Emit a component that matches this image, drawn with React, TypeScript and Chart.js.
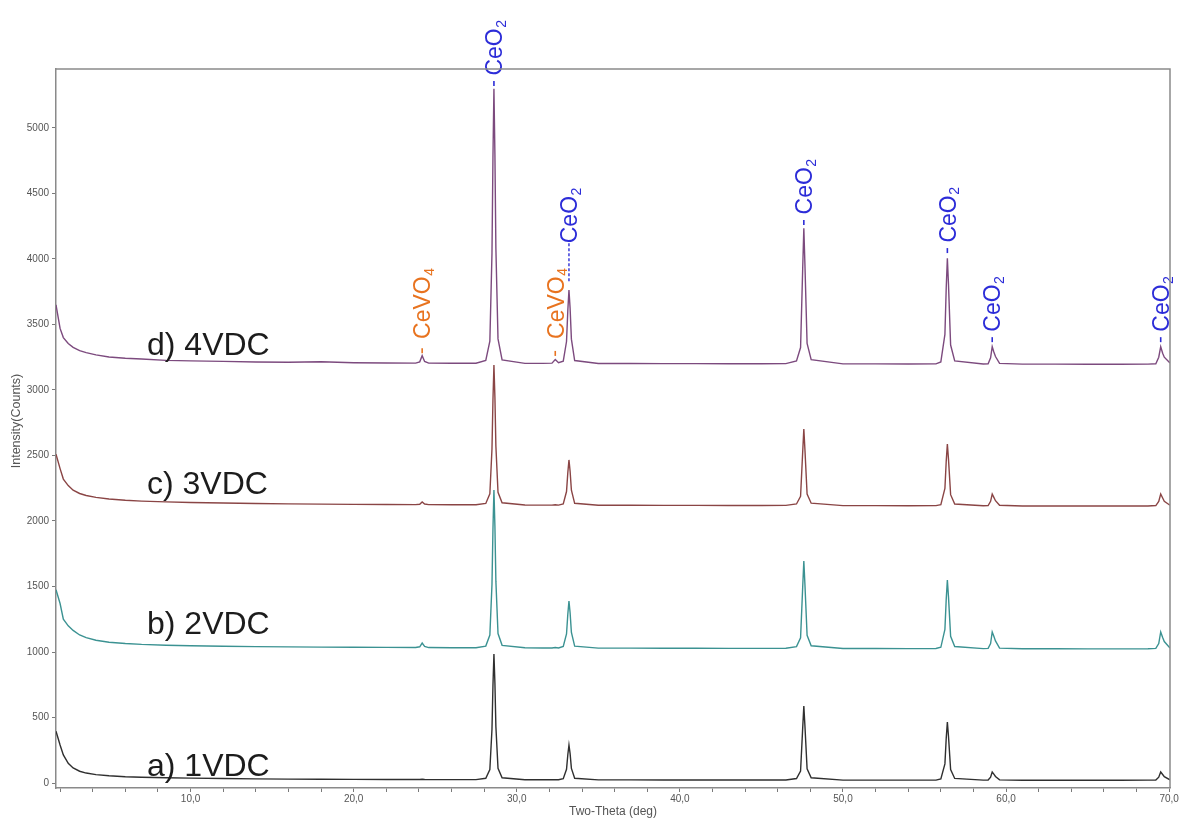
import { useEffect, useRef } from "react";
import { Chart, registerables } from "chart.js";

Chart.register(...registerables);

// Two-theta sampling positions (deg), shared by all four patterns
const twoTheta = [
  1.75, 2.0, 2.2, 2.5, 2.8, 3.2, 3.6, 4.2, 5.0, 6.0, 7.0, 8.5, 10, 12, 14, 16, 18, 20, 22,
  23.8, 24.05, 24.2, 24.35, 24.6,
  26, 27.5,
  28.1, 28.35, 28.48, 28.54, 28.6, 28.66, 28.72, 28.85, 29.1,
  30.5, 31.6,
  32.16, 32.36, 32.56,
  32.85, 33.05, 33.13, 33.2, 33.27, 33.35, 33.55,
  35, 37, 39, 41, 43, 45, 46.5,
  47.15, 47.4, 47.53, 47.6, 47.67, 47.8, 48.05,
  50, 52, 54, 55.7,
  56.0, 56.25, 56.33, 56.4, 56.47, 56.6, 56.85,
  58.6,
  58.9, 59.05, 59.15, 59.25, 59.35, 59.6,
  61, 63, 65, 67, 68.7,
  69.18, 69.36, 69.48, 69.6, 69.7, 70.05,
];

// Intensity (counts) of each sample, stacked with a vertical offset
const counts1VDC = [
  395, 290, 215, 150, 115, 90, 76, 64, 55, 48, 44, 40, 37, 34, 32, 30, 29, 28, 27,
  27, 27, 29, 27, 26,
  26, 26,
  36, 103, 410, 745, 985, 764, 429, 112, 40,
  25, 25,
  25, 26, 25,
  33, 105, 216, 290, 224, 112, 36,
  24, 24, 23, 23, 23, 23, 23,
  34, 91, 419, 588, 430, 108, 40,
  22, 22, 22, 22,
  31, 146, 342, 466, 355, 102, 35,
  22,
  23, 45, 84, 68, 50, 24,
  21, 21, 21, 21, 22,
  23, 45, 84, 65, 48, 24,
];

const counts2VDC = [
  1475, 1370, 1250, 1200, 1165, 1130, 1110, 1090, 1075, 1065, 1058, 1052, 1048, 1044, 1041, 1039, 1037, 1036, 1035,
  1034, 1040, 1068, 1042, 1034,
  1033, 1033,
  1045, 1129, 1515, 1936, 2237, 1960, 1539, 1141, 1051,
  1032, 1031,
  1031, 1034, 1031,
  1042, 1138, 1289, 1389, 1300, 1149, 1045,
  1030, 1030, 1029, 1029, 1028, 1028, 1029,
  1041, 1108, 1495, 1695, 1508, 1128, 1048,
  1027, 1027, 1026, 1027,
  1036, 1173, 1403, 1550, 1419, 1120, 1042,
  1026,
  1028, 1065, 1153, 1120, 1085, 1030,
  1025, 1025, 1024, 1024, 1025,
  1028, 1065, 1153, 1110, 1080, 1030,
];

const counts3VDC = [
  2510, 2400, 2320, 2270, 2235, 2210, 2195, 2180, 2168, 2158, 2152, 2146, 2141, 2137, 2134, 2131, 2129, 2127, 2126,
  2125, 2128, 2145, 2130, 2125,
  2124, 2124,
  2134, 2208, 2550, 2923, 3190, 2945, 2571, 2219, 2139,
  2122, 2121,
  2121, 2124, 2121,
  2131, 2225, 2369, 2466, 2380, 2235, 2135,
  2120, 2120, 2119, 2119, 2118, 2118, 2119,
  2130, 2188, 2527, 2702, 2538, 2206, 2136,
  2117, 2117, 2116, 2117,
  2125, 2248, 2456, 2588, 2470, 2201, 2130,
  2116,
  2118, 2150, 2206, 2180, 2155, 2120,
  2115, 2115, 2114, 2114, 2115,
  2118, 2150, 2206, 2175, 2150, 2120,
];

const counts4VDC = [
  3650, 3470, 3400, 3355, 3325, 3300, 3285, 3268, 3252, 3242, 3236, 3226, 3222, 3218, 3214, 3212, 3215, 3208, 3206,
  3205, 3215, 3262, 3218, 3205,
  3204, 3204,
  3225, 3372, 4042, 4776, 5300, 4800, 4080, 3390, 3230,
  3203, 3203,
  3205, 3232, 3208,
  3220, 3370, 3606, 3763, 3623, 3388, 3225,
  3202, 3202, 3201, 3201, 3200, 3200, 3201,
  3221, 3324, 3925, 4235, 3945, 3355, 3231,
  3199, 3199, 3198, 3199,
  3214, 3424, 3779, 4005, 3803, 3343, 3222,
  3198,
  3200, 3245, 3330, 3290, 3255, 3203,
  3197, 3197, 3196, 3196, 3197,
  3200, 3250, 3330, 3280, 3250, 3205,
];

const patterns = [counts1VDC, counts2VDC, counts3VDC, counts4VDC];
const patternNames = ["a) 1VDC", "b) 2VDC", "c) 3VDC", "d) 4VDC"];
const patternColors = ["#2f2f2f", "#3b9292", "#8a4545", "#7c4a7e"];
// where each pattern's name is written (two-theta, counts at text baseline)
const nameAngle = [7.33, 7.33, 7.33, 7.33];
const nameCounts = [53, 1137, 2206, 3267];

// Phase markers: peak angle, tip of the marker and start of the text (counts)
const ceo2Angles = [28.6, 33.2, 47.6, 56.4, 59.15, 69.48];
const ceo2Tips = [5320, 3830, 4260, 4045, 3365, 3365];
const ceo2TextStarts = [5400, 4120, 4340, 4125, 3445, 3445];
const cevo4Angles = [24.2, 32.36];
const cevo4Tips = [3280, 3260];
const cevo4TextStarts = [3390, 3390];

// Axis ticks
const xTicks = [
  2, 4, 6, 8, 10, 12, 14, 16, 18, 20, 22, 24, 26, 28, 30, 32, 34, 36, 38, 40,
  42, 44, 46, 48, 50, 52, 54, 56, 58, 60, 62, 64, 66, 68, 70,
];
const xLabelled = [10, 20, 30, 40, 50, 60, 70];
const yTicks = [0, 500, 1000, 1500, 2000, 2500, 3000, 3500, 4000, 4500, 5000];

const SANS = '"Liberation Sans", Arial, sans-serif';

function drawFormula(
  ctx: CanvasRenderingContext2D,
  x: number,
  y: number,
  main: string,
  sub: string,
  color: string,
  size: number
) {
  ctx.save();
  ctx.translate(x, y);
  ctx.rotate(-Math.PI / 2);
  ctx.fillStyle = color;
  ctx.textAlign = "left";
  ctx.textBaseline = "alphabetic";
  ctx.font = `${size}px ${SANS}`;
  const base = size * 0.36;
  ctx.fillText(main, 0, base);
  const w = ctx.measureText(main).width;
  ctx.font = `${Math.round(size * 0.62)}px ${SANS}`;
  ctx.fillText(sub, w + 0.5, base + size * 0.16);
  ctx.restore();
}

const markerPlugin = {
  id: "phaseMarkers",
  afterDatasetsDraw(chart: any) {
    const { ctx, scales } = chart;
    const xs = scales.x;
    const ys = scales.y;
    const size = 23;
    const blue = "#2c2cd8";
    const orange = "#e8731f";

    const drawTick = (px: number, tip: number, color: string) => {
      ctx.save();
      ctx.strokeStyle = color;
      ctx.lineWidth = 1.6;
      ctx.beginPath();
      ctx.moveTo(px, tip);
      ctx.lineTo(px, tip - 5);
      ctx.stroke();
      ctx.restore();
    };

    ceo2Angles.forEach((a, i) => {
      const px = xs.getPixelForValue(a);
      const tip = ys.getPixelForValue(ceo2Tips[i]);
      const start = ys.getPixelForValue(ceo2TextStarts[i]);
      if (start - tip < -20) {
        ctx.save();
        ctx.strokeStyle = blue;
        ctx.lineWidth = 1.4;
        ctx.setLineDash([3, 2]);
        ctx.beginPath();
        ctx.moveTo(px, tip);
        ctx.lineTo(px, start - 1);
        ctx.stroke();
        ctx.restore();
      } else {
        drawTick(px, tip, blue);
      }
      drawFormula(ctx, px, start, "CeO", "2", blue, size);
    });

    cevo4Angles.forEach((a, i) => {
      const px = xs.getPixelForValue(a);
      const tip = ys.getPixelForValue(cevo4Tips[i]);
      const start = ys.getPixelForValue(cevo4TextStarts[i]);
      drawTick(px, tip, orange);
      drawFormula(ctx, px, start, "CeVO", "4", orange, size);
    });
  },
};

const decorPlugin = {
  id: "decor",
  afterDraw(chart: any) {
    const { ctx, chartArea, scales } = chart;
    ctx.save();
    // upper and right frame
    ctx.strokeStyle = "#8a8a8a";
    ctx.lineWidth = 1.5;
    ctx.beginPath();
    ctx.moveTo(chartArea.left, chartArea.top);
    ctx.lineTo(chartArea.right, chartArea.top);
    ctx.lineTo(chartArea.right, chartArea.bottom);
    ctx.stroke();

    // pattern names
    ctx.fillStyle = "#1c1c1c";
    ctx.font = `32px ${SANS}`;
    ctx.textAlign = "left";
    ctx.textBaseline = "alphabetic";
    patternNames.forEach((name, i) => {
      ctx.fillText(
        name,
        scales.x.getPixelForValue(nameAngle[i]),
        scales.y.getPixelForValue(nameCounts[i])
      );
    });

    // axis titles
    ctx.fillStyle = "#555";
    ctx.font = `12px ${SANS}`;
    ctx.textAlign = "center";
    ctx.textBaseline = "middle";
    ctx.fillText("Two-Theta (deg)", 613, 812);
    ctx.translate(17, 421);
    ctx.rotate(-Math.PI / 2);
    ctx.font = `12.5px ${SANS}`;
    ctx.fillText("Intensity(Counts)", 0, 0);
    ctx.restore();
  },
};

export default function App() {
  const canvasRef = useRef<HTMLCanvasElement | null>(null);

  useEffect(() => {
    const canvas = canvasRef.current;
    if (!canvas) return;
    const datasets = patterns
      .map((values, i) => ({
        label: patternNames[i],
        data: values.map((v, j) => ({ x: twoTheta[j], y: v })),
        borderColor: patternColors[i],
        borderWidth: 1.4,
        pointRadius: 0,
        tension: 0,
        fill: false,
      }))
      .reverse();

    const chart = new Chart(canvas, {
      type: "line",
      data: { datasets },
      options: {
        animation: false,
        responsive: false,
        maintainAspectRatio: false,
        layout: { padding: { top: 69, right: 10, left: 0, bottom: 0 } },
        plugins: {
          legend: { display: false },
          tooltip: { enabled: false },
        },
        scales: {
          x: {
            type: "linear",
            min: 1.75,
            max: 70.05,
            afterBuildTicks(scale: any) {
              scale.ticks = xTicks.map((value) => ({ value }));
            },
            afterFit(scale: any) {
              scale.height = 30;
            },
            border: { display: true, color: "#8a8a8a", width: 1.5 },
            grid: {
              drawOnChartArea: false,
              drawTicks: true,
              tickLength: 4,
              color: "#7a7a7a",
            },
            ticks: {
              autoSkip: false,
              maxRotation: 0,
              padding: 1,
              color: "#555",
              font: { family: SANS, size: 10 },
              callback: (v: any) => {
                const n = Number(v);
                return xLabelled.includes(n) ? n.toFixed(1).replace(".", ",") : "";
              },
            },
          },
          y: {
            type: "linear",
            min: -38,
            max: 5450,
            afterBuildTicks(scale: any) {
              scale.ticks = yTicks.map((value) => ({ value }));
            },
            afterFit(scale: any) {
              scale.width = 56;
            },
            border: { display: true, color: "#8a8a8a", width: 1.5 },
            grid: {
              drawOnChartArea: false,
              drawTicks: true,
              tickLength: 4,
              color: "#7a7a7a",
            },
            ticks: {
              autoSkip: false,
              padding: 3,
              color: "#555",
              font: { family: SANS, size: 10 },
              callback: (v: any) => String(v),
            },
          },
        },
      },
      plugins: [markerPlugin, decorPlugin],
    } as any);

    return () => chart.destroy();
  }, []);

  return (
    <div style={{ position: "absolute", left: 0, top: 0, width: 1180, height: 818, background: "#fff" }}>
      <canvas ref={canvasRef} width={1180} height={818} style={{ display: "block" }} />
    </div>
  );
}
